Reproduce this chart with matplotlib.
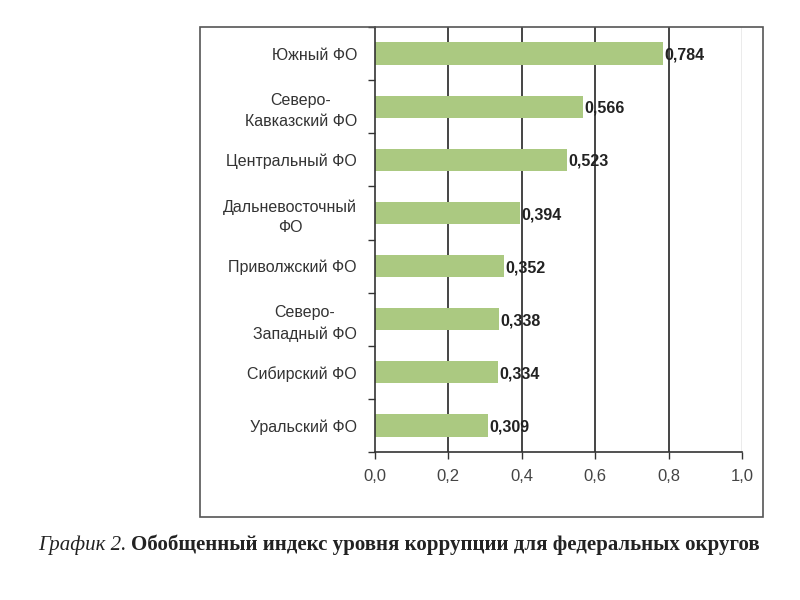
import matplotlib.pyplot as plt
from matplotlib.patches import Rectangle

# categories top to bottom as in the picture
regions = ["Южный ФО", "Северо-\nКавказский ФО", "Центральный ФО",
           "Дальневосточный\nФО", "Приволжский ФО", "Северо-\nЗападный ФО",
           "Сибирский ФО", "Уральский ФО"]
index_values = [0.784, 0.566, 0.523, 0.394, 0.352, 0.338, 0.334, 0.309]
x_ticks = [0.0, 0.2, 0.4, 0.6, 0.8, 1.0]

plt.rcParams['font.family'] = ['Liberation Sans', 'DejaVu Sans']

fig = plt.figure(figsize=(8, 6), dpi=100)
W, H = 800, 600

# outer frame of the chart
fig.patches.append(Rectangle((200 / W, 1 - 517 / H), 563 / W, (517 - 27) / H,
                             transform=fig.transFigure, fill=False,
                             edgecolor='#555555', linewidth=1.2))

ax = fig.add_axes([375 / W, 1 - 452 / H, (742 - 375) / W, (452 - 27) / H])

n = len(regions)
ypos = list(range(n))[::-1]
ax.barh(ypos, index_values, height=0.42, color='#abc981', zorder=2)

for y, v in zip(ypos, index_values):
    ax.text(v + 0.004, y - 0.03, ("%.3f" % v).replace('.', ','), va='center', ha='left',
            fontsize=11.5, fontweight='bold', color='#222222', zorder=3)

ax.set_xlim(0, 1.0)
ax.set_ylim(-0.5, n - 0.5)
ax.set_xticks(x_ticks)
ax.set_xticklabels([("%.1f" % t).replace('.', ',') for t in x_ticks],
                   fontsize=12, color='#444444')

# category labels at bar centres, ticks between categories
ax.set_yticks(ypos)
ax.set_yticklabels(regions, fontsize=11.5, color='#333333', linespacing=1.45,
                   multialignment='center')
ax.tick_params(axis='y', length=0, pad=13)
ax.set_yticks([i + 0.5 for i in range(-1, n)], minor=True)
ax.tick_params(axis='y', which='minor', length=5, width=1, color='#333333')
ax.tick_params(axis='x', length=5, width=1, color='#333333', pad=7)

for t in x_ticks[1:-1]:
    ax.axvline(t, color='#444444', linewidth=1.4, zorder=1)
ax.axvline(1.0, color='#999999', linewidth=1.0, zorder=1)

for side in ['top', 'right']:
    ax.spines[side].set_visible(False)
ax.spines['left'].set_color('#333333')
ax.spines['bottom'].set_color('#333333')
ax.spines['left'].set_linewidth(1.2)
ax.spines['bottom'].set_linewidth(1.2)

# caption: italic label followed by the title text
cap1 = fig.text(38 / W, 1 - 545 / H, "График 2.", fontsize=15, style='italic',
                family='Liberation Serif', va='center', ha='left', color='#222222')
fig.canvas.draw()
bb = cap1.get_window_extent()
fig.text((bb.x1 + 5) / W, 1 - 545 / H,
         "Обобщенный индекс уровня коррупции для федеральных округов",
         fontsize=15, fontweight='bold', family='Liberation Serif',
         va='center', ha='left', color='#222222')

fig.savefig("out.png", dpi=100)
